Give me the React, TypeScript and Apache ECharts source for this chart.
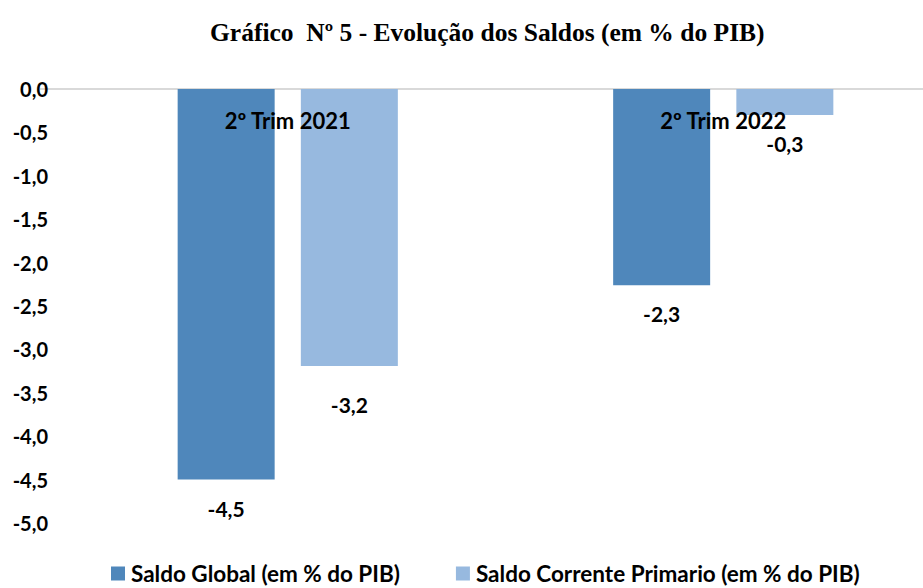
import React, { useEffect, useRef } from "react";
import * as echarts from "echarts";

const categories = ["2º Trim 2021", "2º Trim 2022"];
const saldoGlobal = [-4.5, -2.26];
const saldoCorrente = [-3.19, -0.3];
const seriesNames = ["Saldo Global (em % do PIB)", "Saldo Corrente Primario (em % do PIB)"];
const titleText = "Gráfico  Nº 5 - Evolução dos Saldos (em % do PIB)";

const fmt = (v: number) => v.toFixed(1).replace(".", ",");

export default function App() {
  const ref = useRef<HTMLDivElement>(null);
  useEffect(() => {
    document.body.style.margin = "0";
    document.body.style.overflow = "hidden";
    const chart = echarts.init(ref.current!, undefined, { renderer: "svg" });
    const labelStyle = {
      show: true,
      position: "bottom" as const,
      distance: 18,
      color: "#000",
      fontFamily: "Lato",
      fontWeight: "bold" as const,
      fontSize: 21,
      formatter: (p: any) => fmt(p.value),
    };
    chart.setOption({
      animation: false,
      backgroundColor: "#fff",
      title: {
        text: titleText,
        left: 205,
        top: 14,
        textStyle: {
          fontFamily: "Liberation Serif, serif",
          fontWeight: "bold",
          fontSize: 25.5,
          color: "#000",
        },
      },
      legend: {
        left: 111,
        top: 562,
        itemWidth: 14,
        itemHeight: 14,
        itemGap: 56,
        icon: "rect",
        padding: 0,
        textStyle: {
          fontFamily: "Lato",
          fontWeight: "bold",
          fontSize: 22.5,
          lineHeight: 20,
          color: "#000",
          padding: [0, 0, 0, 1],
        },
        data: seriesNames,
      },
      grid: { left: 70, right: 0, top: 89, bottom: 65, containLabel: false },
      graphic: [
        {
          type: "line",
          shape: { x1: 40, y1: 89, x2: 941, y2: 89 },
          style: { stroke: "#d9d9d9", lineWidth: 2 },
          z: 0,
        },
      ],
      xAxis: {
        type: "category",
        position: "top",
        data: categories,
        axisLine: { show: false },
        axisTick: { show: false },
        axisLabel: {
          inside: true,
          margin: 20,
          color: "#000",
          fontFamily: "Lato",
          fontWeight: "bold",
          fontSize: 22,
        },
        z: 10,
      },
      yAxis: {
        type: "value",
        min: -5,
        max: 0,
        interval: 0.5,
        axisLine: { show: false },
        axisTick: { show: false },
        splitLine: { show: false },
        axisLabel: {
          margin: 22,
          color: "#000",
          fontFamily: "Lato",
          fontWeight: "bold",
          fontSize: 20,
          formatter: (v: number) => fmt(v),
        },
      },
      series: [
        {
          name: seriesNames[0],
          type: "bar",
          data: saldoGlobal,
          barWidth: 97,
          barGap: "27%",
          itemStyle: { color: "#4f87bb" },
          label: labelStyle,
          z: 2,
        },
        {
          name: seriesNames[1],
          type: "bar",
          data: saldoCorrente.map((v, i) =>
            i === 0 ? { value: v, label: { distance: 28 } } : v
          ),
          barWidth: 97,
          itemStyle: { color: "#97b9df" },
          label: labelStyle,
          z: 2,
        },
      ],
    });
    return () => chart.dispose();
  }, []);
  return <div ref={ref} style={{ width: 941, height: 588 }} />;
}
